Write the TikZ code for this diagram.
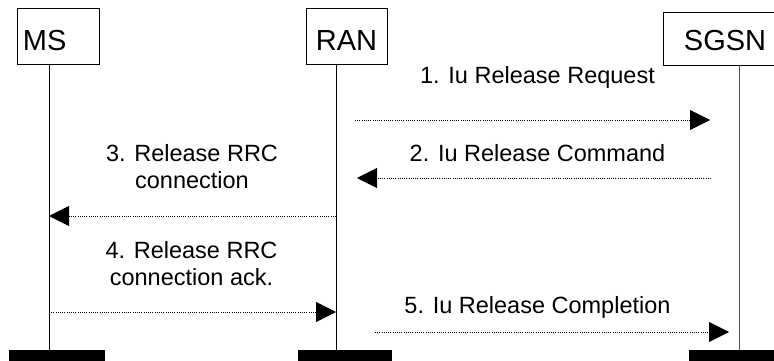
\documentclass[tikz,border=0pt]{standalone}
\usepackage{fontspec}
\setmainfont{Liberation Sans}
\usetikzlibrary{arrows.meta}

\tikzset{
    entity/.style={draw,line width=0.8pt,minimum height=56pt,inner sep=0pt,
        font=\fontsize{29}{34}\selectfont,text height=30pt,text depth=0pt},
    msg/.style={line width=0.9pt,dash pattern=on 1pt off 1.2pt,
        -{Triangle[length=20pt,width=20pt]}},
    lbl/.style={font=\fontsize{23.5}{26.5}\selectfont,align=center,anchor=base,inner sep=0pt},
    lifeline/.style={line width=0.8pt},
    bar/.style={fill=black,minimum width=96pt,minimum height=16pt,inner sep=0pt,anchor=north west}
}

\begin{document}
\begin{tikzpicture}[x=1pt,y=-1pt]
    \useasboundingbox (0,0) rectangle (774,361);

    % entities
    \node[entity,minimum width=82pt,text width=70pt,align=left] (ms) at (58,36) {MS};
    \node[entity,minimum width=81pt] (ran) at (346.5,36) {RAN};
    \node[entity,minimum width=124pt,minimum height=53pt,text height=25pt] (sgsn) at (725,38.5) {SGSN};

    % end bars
    \node[bar] (msbar) at (9,350) {};
    \node[bar,minimum width=94pt] (ranbar) at (298,350) {};
    \node[bar] (sgsnbar) at (689,350) {};

    % lifelines
    \coordinate (mstop) at (49,64);
    \coordinate (msbot) at (49,350);
    \coordinate (rantop) at (336,64);
    \coordinate (ranbot) at (336,350);
    \coordinate (sgsntop) at (739,65);
    \coordinate (sgsnbot) at (739,350);
    \draw[lifeline] (mstop) -- (msbot);
    \draw[lifeline] (rantop) -- (ranbot);
    \draw[lifeline,black!70] (sgsntop) -- (sgsnbot);

    % messages
    \coordinate (m1s) at (355,120);
    \coordinate (m1e) at (710,120);
    \coordinate (m2s) at (711,178);
    \coordinate (m2e) at (357,178);
    \coordinate (m3s) at (336,216);
    \coordinate (m3e) at (49,216);
    \coordinate (m4s) at (49,312);
    \coordinate (m4e) at (336,312);
    \coordinate (m5s) at (375,332);
    \coordinate (m5e) at (729,332);
    \draw[msg] (m1s) -- (m1e);
    \draw[msg] (m2s) -- (m2e);
    \draw[msg] (m3s) -- (m3e);
    \draw[msg] (m4s) -- (m4e);
    \draw[msg] (m5s) -- (m5e);

    % labels (base = last line)
    \node[lbl] (l1) at (537.5,84) {1. Iu Release Request};
    \node[lbl] (l2) at (537.5,161) {2. Iu Release Command};
    \node[lbl] (l3) at (192,188) {3. Release RRC\\connection};
    \node[lbl] (l4) at (191.5,285) {4. Release RRC\\connection ack.};
    \node[lbl] (l5) at (537.5,313) {5. Iu Release Completion};
\end{tikzpicture}
\end{document}
